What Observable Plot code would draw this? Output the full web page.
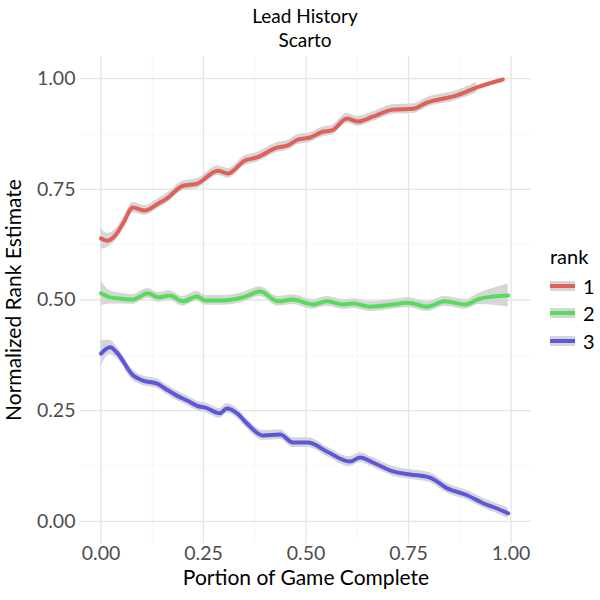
<!DOCTYPE html>
<html><head><meta charset="utf-8">
<script src="https://cdn.jsdelivr.net/npm/d3@7"></script>
<script src="https://cdn.jsdelivr.net/npm/@observablehq/plot@0.6"></script>
<style>
body{margin:0;background:#fff;font-family:Lato,"Open Sans",sans-serif;}
#wrap{position:relative;width:600px;height:600px;overflow:hidden;}
#title{height:52px;width:610px;text-align:center;color:#000;font-size:19px;line-height:23.5px;padding-top:4px;box-sizing:border-box;}
#legend{position:absolute;left:550px;top:244px;color:#000;}
#legend .t{font-size:20px;line-height:24px;margin-bottom:4px;}
#legend .row{display:flex;align-items:center;height:27.5px;}
#legend .key{width:25px;height:10px;background:#d6d6d6;position:relative;margin-right:8px;}
#legend .key i{position:absolute;left:0;right:0;top:3px;height:4px;}
#legend .lab{font-size:20px;}
</style></head><body>
<div id="wrap">
<div id="title">Lead History<br>Scarto</div>
<div id="chart"></div>
<div id="legend"></div>
</div>
<script>
const ranks = ["1", "2", "3"];
const colors = ["#e0615a", "#55dc5a", "#5e57de"];
const xTicks = [0, 0.25, 0.5, 0.75, 1];
const yTicks = [0, 0.25, 0.5, 0.75, 1];
const minorTicks = [0.125, 0.375, 0.625, 0.875];

const x1 = [0,0.015,0.035,0.054,0.078,0.107,0.14,0.16,0.2,0.235,0.285,0.31,0.351,0.38,0.429,0.455,0.48,0.51,0.541,0.563,0.6,0.627,0.663,0.712,0.761,0.795,0.868,0.917,0.98];
const y1 = [0.639,0.634,0.646,0.673,0.709,0.702,0.718,0.729,0.758,0.763,0.792,0.786,0.815,0.822,0.844,0.849,0.862,0.867,0.880,0.883,0.910,0.903,0.914,0.930,0.932,0.946,0.962,0.980,0.998];
const se1 = [0.024,0.016,0.013,0.012,0.012,0.011,0.011,0.011,0.011,0.011,0.011,0.011,0.011,0.011,0.011,0.011,0.011,0.011,0.011,0.011,0.011,0.011,0.011,0.011,0.011,0.011,0.011,0.012,null];

const x2 = [0,0.022,0.051,0.076,0.115,0.139,0.168,0.2,0.234,0.254,0.298,0.346,0.388,0.432,0.468,0.505,0.517,0.551,0.59,0.615,0.656,0.712,0.749,0.795,0.839,0.888,0.924,0.993];
const y2 = [0.515,0.506,0.503,0.501,0.515,0.506,0.510,0.497,0.508,0.499,0.499,0.506,0.519,0.497,0.501,0.492,0.490,0.497,0.490,0.492,0.485,0.490,0.494,0.485,0.497,0.490,0.503,0.510];
const se2 = [0.028,0.015,0.012,0.011,0.011,0.011,0.011,0.011,0.011,0.011,0.011,0.011,0.011,0.011,0.011,0.011,0.011,0.011,0.011,0.011,0.011,0.011,0.011,0.011,0.011,0.011,0.013,0.026];

const x3 = [0,0.022,0.039,0.078,0.102,0.137,0.156,0.185,0.21,0.237,0.254,0.29,0.307,0.332,0.356,0.395,0.437,0.468,0.505,0.554,0.607,0.632,0.663,0.712,0.754,0.802,0.846,0.893,0.932,0.966,0.993];
const y3 = [0.379,0.393,0.381,0.330,0.318,0.311,0.300,0.284,0.273,0.260,0.257,0.244,0.255,0.244,0.221,0.194,0.196,0.178,0.178,0.156,0.135,0.144,0.133,0.113,0.106,0.099,0.074,0.059,0.041,0.029,0.018];
const se3 = [0.030,0.016,0.013,0.012,0.011,0.011,0.011,0.011,0.011,0.011,0.011,0.011,0.011,0.011,0.011,0.011,0.011,0.011,0.011,0.011,0.011,0.011,0.011,0.011,0.011,0.011,0.011,0.011,0.011,0.011,0.012];

const series = [[x1,y1,se1],[x2,y2,se2],[x3,y3,se3]];
const data = series.flatMap(([xs, ys, ss], k) => xs.map((x, i) => ({
  rank: ranks[k], x, y: ys[i],
  lo: ss[i] == null ? null : ys[i] - ss[i],
  hi: ss[i] == null ? null : ys[i] + ss[i]
})));
const bandData = data.filter(d => d.lo != null);

const font = "Lato, 'Open Sans', sans-serif";
const curve = "monotone-x";
const plot = Plot.plot({
  width: 600, height: 548,
  marginTop: 4, marginBottom: 57, marginLeft: 80, marginRight: 69,
  style: {fontFamily: font, background: "#fff"},
  x: {domain: [-0.05, 1.05]},
  y: {domain: [-0.05, 1.05]},
  color: {domain: ranks, range: colors},
  marks: [
    Plot.ruleX(minorTicks, {stroke: "#f3f3f3", strokeWidth: 0.7}),
    Plot.ruleY(minorTicks, {stroke: "#f3f3f3", strokeWidth: 0.7}),
    Plot.ruleX(xTicks, {stroke: "#e4e4e4", strokeWidth: 1.3}),
    Plot.ruleY(yTicks, {stroke: "#e4e4e4", strokeWidth: 1.3}),
    Plot.axisX(xTicks, {tickSize: 0, tickPadding: 3, tickFormat: d3.format(".2f"), fontSize: 19.5, fill: "#4d4d4d", label: null}),
    Plot.axisY(yTicks, {tickSize: 0, tickPadding: 5, tickFormat: d3.format(".2f"), fontSize: 19.5, fill: "#4d4d4d", label: null}),
    Plot.areaY(bandData, {x: "x", y1: "lo", y2: "hi", z: "rank", fill: "#d6d6d6", curve}),
    Plot.line(data, {x: "x", y: "y", z: "rank", stroke: "rank", strokeWidth: 4, curve}),
    Plot.text(["Portion of Game Complete"], {frameAnchor: "bottom", dy: 41, fontSize: 21, fill: "#000", textAnchor: "middle", lineWidth: 1000}),
    Plot.text(["Normalized Rank Estimate"], {frameAnchor: "left", rotate: -90, dx: -66, fontSize: 21, fill: "#000", textAnchor: "middle", lineWidth: 1000})
  ]
});
document.getElementById("chart").appendChild(plot);

const lg = document.getElementById("legend");
lg.innerHTML = '<div class="t">rank</div>' + ranks.map((r, i) =>
  `<div class="row"><div class="key"><i style="background:${colors[i]}"></i></div><span class="lab">${r}</span></div>`).join("");
</script>
</body></html>
